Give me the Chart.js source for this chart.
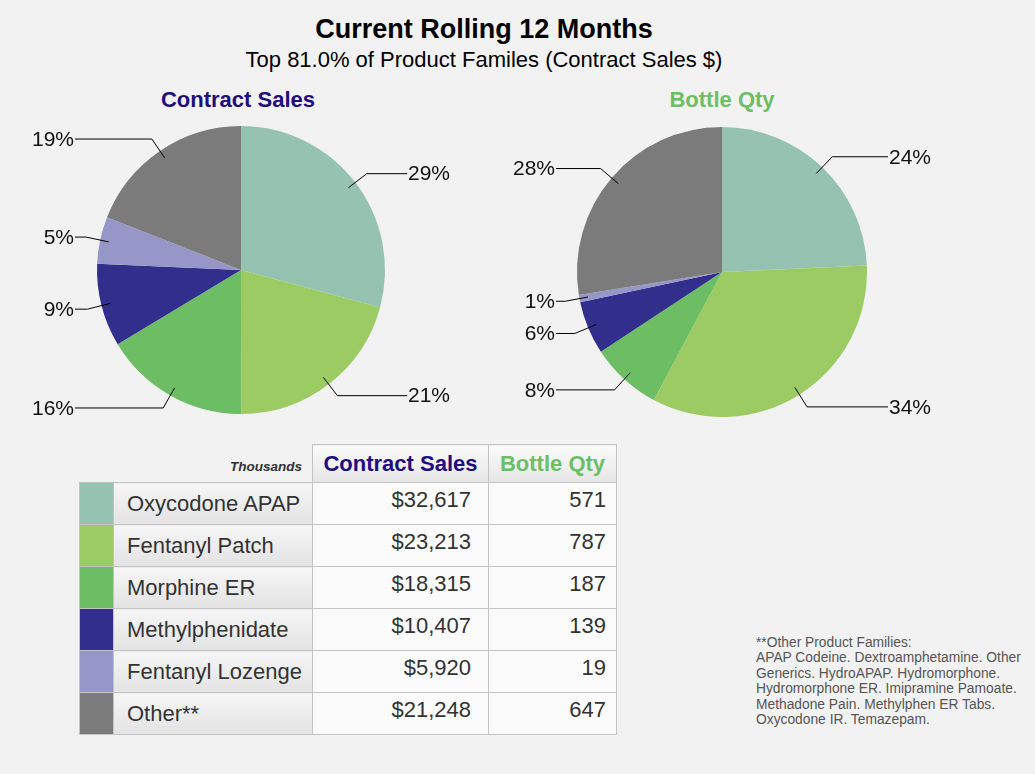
<!DOCTYPE html>
<html>
<head>
<meta charset="utf-8">
<script src="https://cdn.jsdelivr.net/npm/chart.js@4.4.1/dist/chart.umd.min.js"></script>
<style>
  body { margin:0; width:1035px; height:774px; background:#f2f2f2; font-family:"Liberation Sans", Arial, sans-serif; position:relative; overflow:hidden; }
  .abs { position:absolute; }
  #title { left:0; width:968px; top:14px; text-align:center; font-size:27px; font-weight:bold; color:#000; }
  #subtitle { left:0; width:968px; top:47px; text-align:center; font-size:22px; color:#000; }
  .pieTitle { top:87px; font-size:22px; font-weight:bold; text-align:center; width:300px; }
  #csTitle { left:88px; color:#1f0d80; }
  #bqTitle { left:572px; color:#6cbf65; }
  #pie1 { left:0; top:110px; }
  #pie2 { left:482px; top:112px; }
  table { position:absolute; left:79px; top:444px; border-collapse:collapse; font-size:22px; color:#333; }
  td, th { border:1px solid #c4c4c4; padding:0; }
  th { height:37px; font-weight:bold; background:linear-gradient(#fbfbfb,#e6e6e6); }
  th.cs { width:175px; color:#1f0d80; }
  th.bq { width:127px; color:#6cbf65; }
  td.thous { border:none; background:none; text-align:right; vertical-align:bottom; font-size:13.5px; font-style:italic; font-weight:bold; padding:0 10px 8px 0; color:#333; }
  tbody tr { height:42px; }
  td.sw { width:33px; }
  td.name { width:185px; padding-left:13px; background:linear-gradient(#f6f6f6,#e3e3e3); }
  td.val { background:#fbfbfb; text-align:right; vertical-align:top; padding-top:4px; }
  td.v1 { padding-right:17px; }
  td.v2 { padding-right:10px; }
  #note { left:756px; top:635px; font-size:13.8px; line-height:15.4px; color:#555; }
</style>
</head>
<body>
<div id="title" class="abs">Current Rolling 12 Months</div>
<div id="subtitle" class="abs">Top 81.0% of Product Familes (Contract Sales $)</div>
<div id="csTitle" class="abs pieTitle">Contract Sales</div>
<div id="bqTitle" class="abs pieTitle">Bottle Qty</div>
<canvas id="pie1" class="abs" width="482" height="320"></canvas>
<canvas id="pie2" class="abs" width="480" height="320"></canvas>
<table id="tbl"></table>
<div id="note" class="abs">**Other Product Families:<br>APAP Codeine. Dextroamphetamine. Other<br>Generics. HydroAPAP. Hydromorphone.<br>Hydromorphone ER. Imipramine Pamoate.<br>Methadone Pain. Methylphen ER Tabs.<br>Oxycodone IR. Temazepam.</div>
<script>
var products = ['Oxycodone APAP', 'Fentanyl Patch', 'Morphine ER', 'Methylphenidate', 'Fentanyl Lozenge', 'Other**'];
var contractSales = [32617, 23213, 18315, 10407, 5920, 21248];
var bottleQty = [571, 787, 187, 139, 19, 647];
// percent labels as printed on the pies
var contractSalesPct = ['29%', '21%', '16%', '9%', '5%', '19%'];
var bottleQtyPct = ['24%', '34%', '8%', '6%', '1%', '28%'];
var colors = ['#96c3b1', '#9ccb64', '#6dbd64', '#312e8c', '#9696c8', '#7b7b7b'];

// leader lines + percent labels outside the pie
var leaderLabels = {
    id: 'leaderLabels',
    afterDatasetsDraw: function(chart, args, opts) {
        var ctx = chart.ctx;
        var meta = chart.getDatasetMeta(0);
        ctx.save();
        ctx.strokeStyle = '#000';
        ctx.lineWidth = 1;
        ctx.fillStyle = '#111';
        ctx.font = '21px "Liberation Sans", Arial, sans-serif';
        ctx.textBaseline = 'middle';
        meta.data.forEach(function(arc, i) {
            var p = arc.getProps(['x', 'y', 'startAngle', 'endAngle', 'outerRadius'], true);
            var mid = (p.startAngle + p.endAngle) / 2;
            var c = Math.cos(mid), s = Math.sin(mid);
            var x1 = p.x + c * p.outerRadius * 0.94, y1 = p.y + s * p.outerRadius * 0.94;
            var x2 = p.x + c * p.outerRadius * 1.1, y2 = p.y + s * p.outerRadius * 1.1;
            var right = c >= 0;
            var x3 = right ? p.x + opts.offset : p.x - opts.offset;
            ctx.beginPath();
            ctx.moveTo(x1, y1);
            ctx.lineTo(x2, y2);
            ctx.lineTo(x3, y2);
            ctx.stroke();
            ctx.textAlign = right ? 'left' : 'right';
            ctx.fillText(opts.labels[i], right ? x3 + 1 : x3 - 1, y2 + 1);
        });
        ctx.restore();
    }
};

function makePie(id, values, pct, radius) {
    new Chart(document.getElementById(id), {
        type: 'pie',
        data: {
            labels: products,
            datasets: [{
                data: values,
                backgroundColor: colors,
                borderWidth: 0,
                radius: radius
            }]
        },
        options: {
            responsive: false,
            animation: false,
            layout: { padding: 0 },
            plugins: {
                legend: { display: false },
                tooltip: { enabled: false },
                leaderLabels: { offset: 166, labels: pct }
            }
        },
        plugins: [leaderLabels]
    });
}

makePie('pie1', contractSales, contractSalesPct, 144);
makePie('pie2', bottleQty, bottleQtyPct, 145);

// table under the pies
var tbl = document.getElementById('tbl');
var html = '<thead><tr><td class="thous" colspan="2">Thousands</td><th class="cs">Contract Sales</th><th class="bq">Bottle Qty</th></tr></thead><tbody>';
for (var i = 0; i < products.length; i++) {
    html += '<tr><td class="sw" style="background:' + colors[i] + '"></td>' +
        '<td class="name">' + products[i] + '</td>' +
        '<td class="val v1">$' + contractSales[i].toLocaleString('en-US') + '</td>' +
        '<td class="val v2">' + bottleQty[i].toLocaleString('en-US') + '</td></tr>';
}
html += '</tbody>';
tbl.innerHTML = html;
</script>
</body>
</html>
